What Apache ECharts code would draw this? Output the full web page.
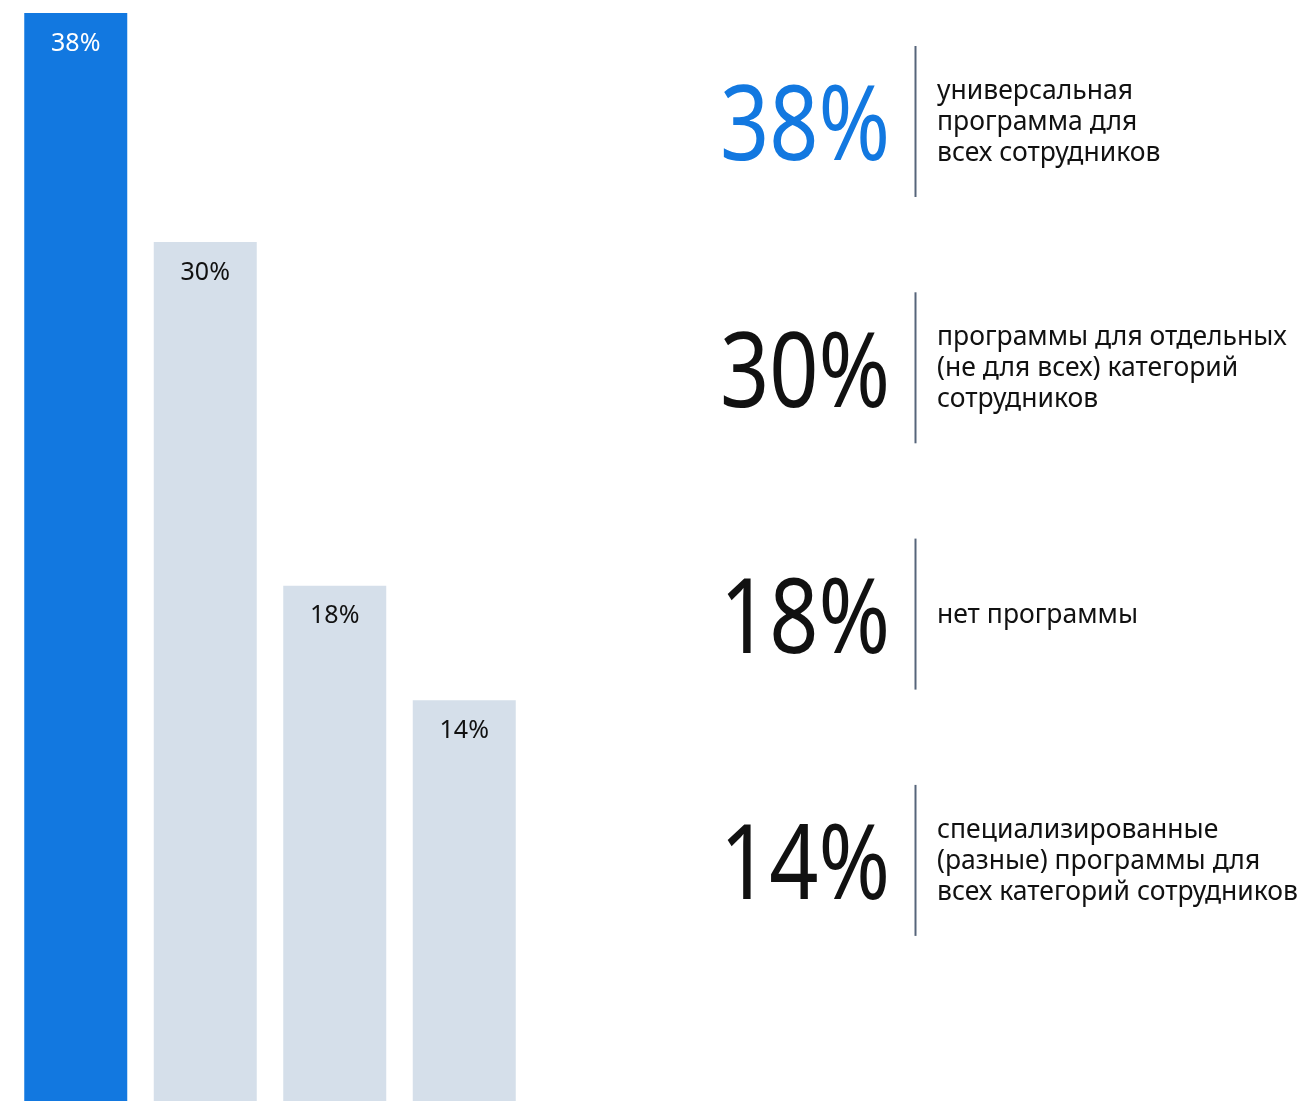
<!DOCTYPE html>
<html>
<head>
<meta charset="utf-8">
<script src="https://cdn.jsdelivr.net/npm/echarts@6/dist/echarts.min.js"></script>
<style>
  html, body { margin: 0; padding: 0; background: #ffffff; }
  #chart { width: 1309px; height: 1101px; }
</style>
</head>
<body>
<div id="chart"></div>
<script>
// Share of companies by type of program
const categories = [
  'универсальная\nпрограмма для\nвсех сотрудников',
  'программы для отдельных\n(не для всех) категорий\nсотрудников',
  'нет программы',
  'специализированные\n(разные) программы для\nвсех категорий сотрудников'
];
const values = [38, 30, 18, 14];
const barColors = ['#1278e0', '#d5dfea', '#d5dfea', '#d5dfea'];
const labelColors = ['#ffffff', '#111111', '#111111', '#111111'];
const bigNumberColors = ['#1278e0', '#111111', '#111111', '#111111'];

const FONT = '"Noto Sans", "Open Sans", sans-serif';

const chart = echarts.init(document.getElementById('chart'), null, { renderer: 'canvas' });

// Blocks on the right: big percentage, divider, description
const blockTop = 46, blockStep = 246.3, blockHeight = 151;
const graphics = [];
values.forEach((v, i) => {
  const top = blockTop + i * blockStep;
  const mid = top + blockHeight / 2;
  graphics.push({
    type: 'text',
    x: 890, y: mid + 9,
    scaleX: 0.82,
    style: {
      text: v + '%',
      fill: bigNumberColors[i],
      font: '400 105px ' + FONT,
      textAlign: 'right',
      textVerticalAlign: 'middle'
    }
  });
  graphics.push({
    type: 'line',
    shape: { x1: 915.5, y1: top, x2: 915.5, y2: top + blockHeight },
    style: { stroke: '#56657a', lineWidth: 2 }
  });
  graphics.push({
    type: 'text',
    x: 937, y: mid + 1,
    style: {
      text: categories[i],
      fill: '#111111',
      font: '400 26.5px ' + FONT,
      lineHeight: 31,
      textAlign: 'left',
      textVerticalAlign: 'middle'
    }
  });
});

chart.setOption({
  animation: false,
  grid: { left: 11, top: 13, width: 518, bottom: 0, containLabel: false },
  xAxis: {
    type: 'category',
    data: categories,
    axisLine: { show: false },
    axisTick: { show: false },
    axisLabel: { show: false }
  },
  yAxis: {
    type: 'value',
    min: 0,
    max: 38,
    show: false,
    splitLine: { show: false }
  },
  series: [{
    type: 'bar',
    barWidth: 103,
    data: values.map((v, i) => ({
      value: v,
      itemStyle: { color: barColors[i] },
      label: { color: labelColors[i] }
    })),
    label: {
      show: true,
      position: 'insideTop',
      distance: 18,
      formatter: p => p.value + '%',
      fontFamily: FONT,
      fontSize: 25
    }
  }],
  graphic: graphics
});
</script>
</body>
</html>
